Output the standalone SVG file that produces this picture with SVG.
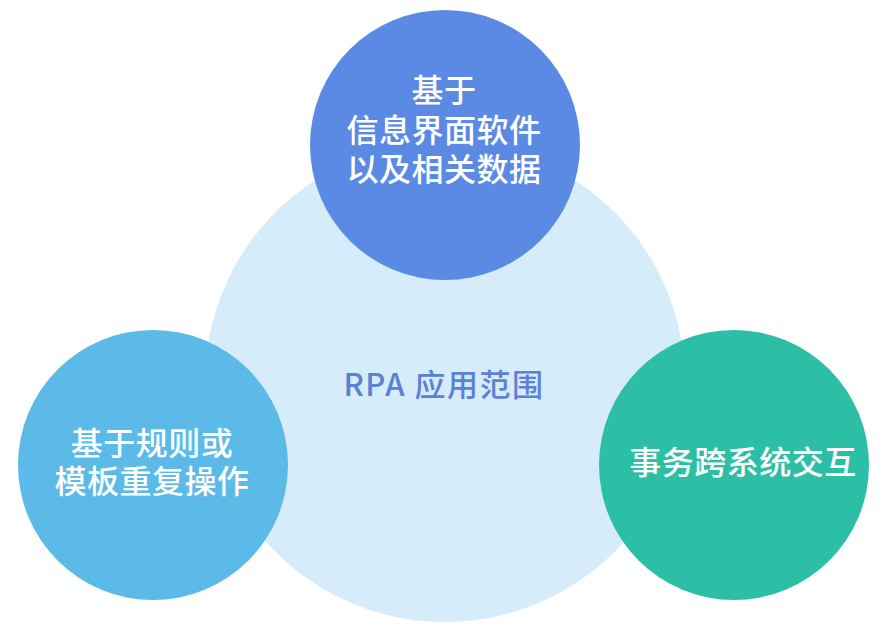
<svg xmlns="http://www.w3.org/2000/svg" width="888" height="634" viewBox="0 0 888 634">
<style>
.lbl{font-family:"Noto Sans CJK SC","Noto Sans",sans-serif;font-size:32px;font-weight:500;fill:#ffffff;text-anchor:middle;letter-spacing:0.5px}
.main{font-family:"Noto Sans CJK SC","Noto Sans",sans-serif;font-size:31px;font-weight:500;fill:#5B80D6;text-anchor:middle;letter-spacing:1.5px}
</style>
<rect width="888" height="634" fill="#ffffff"/>
<g id="scope">
<circle cx="445" cy="382" r="240" fill="#D6ECFA"/>
<text class="main" x="444" y="396">RPA 应用范围</text>
</g>
<g id="top">
<circle cx="445" cy="145" r="135" fill="#5A8AE4"/>
<text class="lbl" x="444" y="102">基于</text>
<text class="lbl" x="444" y="142">信息界面软件</text>
<text class="lbl" x="444" y="181">以及相关数据</text>
</g>
<g id="left">
<circle cx="153" cy="465" r="135" fill="#5BBAE8"/>
<text class="lbl" x="152" y="455">基于规则或</text>
<text class="lbl" x="152" y="493">模板重复操作</text>
</g>
<g id="right">
<circle cx="734" cy="465" r="135" fill="#2DBFA6"/>
<text class="lbl" x="743" y="474">事务跨系统交互</text>
</g>
<g id="connectors"/>
</svg>
